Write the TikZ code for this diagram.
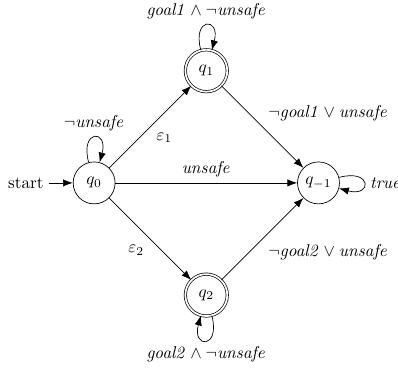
\documentclass[tikz,border=0pt]{standalone}
\usepackage{amsmath,amssymb}
\usetikzlibrary{arrows.meta, calc}
\tikzset{
    state_node/.style={
        circle, draw=black, minimum size=0.86cm, inner sep=1pt
    },
    accept_node/.style={
        state_node, double, double distance=1pt
    },
    start_node/.style={
        inner sep=3pt
    },
    arrow/.style={
        -{Latex[length=2mm, width=1.5mm]}, draw=black
    }
}

\begin{document}
\begin{tikzpicture}
    \useasboundingbox (-1.93,-3.83) rectangle (6.23,3.75);

    % Zustaende
    \node[state_node] (q0) at (0, 0) {$q_0$};
    \node[accept_node] (q1) at (2.3, 2.3) {$q_1$};
    \node[accept_node] (q2) at (2.3, -2.3) {$q_2$};
    \node[state_node] (qsink) at (4.6, 0) {$q_{-1}$};
    \node[start_node] (start) at (-1.40, 0) {start};

    % Uebergaenge
    \draw[arrow] (start) -- (q0);
    \draw[arrow] (q0) to[loop above] node[above] {$\neg\mathit{unsafe}$} (q0);
    \draw[arrow] (q0) -- node[below right] {$\varepsilon_1$} (q1);
    \draw[arrow] (q0) -- node[below left] {$\varepsilon_2$} (q2);
    \draw[arrow] (q0) -- node[above] {$\mathit{unsafe}$} (qsink);
    \draw[arrow] (q1) to[loop above] node[above] {$\mathit{goal1} \wedge \neg\mathit{unsafe}$} (q1);
    \draw[arrow] (q2) to[loop below] node[below] {$\mathit{goal2} \wedge \neg\mathit{unsafe}$} (q2);
    \draw[arrow] (q1) -- node[above right] {$\neg\mathit{goal1} \vee \mathit{unsafe}$} (qsink);
    \draw[arrow] (q2) -- node[below right] {$\neg\mathit{goal2} \vee \mathit{unsafe}$} (qsink);
    \draw[arrow] (qsink) to[loop right] node[right] {$\mathit{true}$} (qsink);
\end{tikzpicture}
\end{document}
